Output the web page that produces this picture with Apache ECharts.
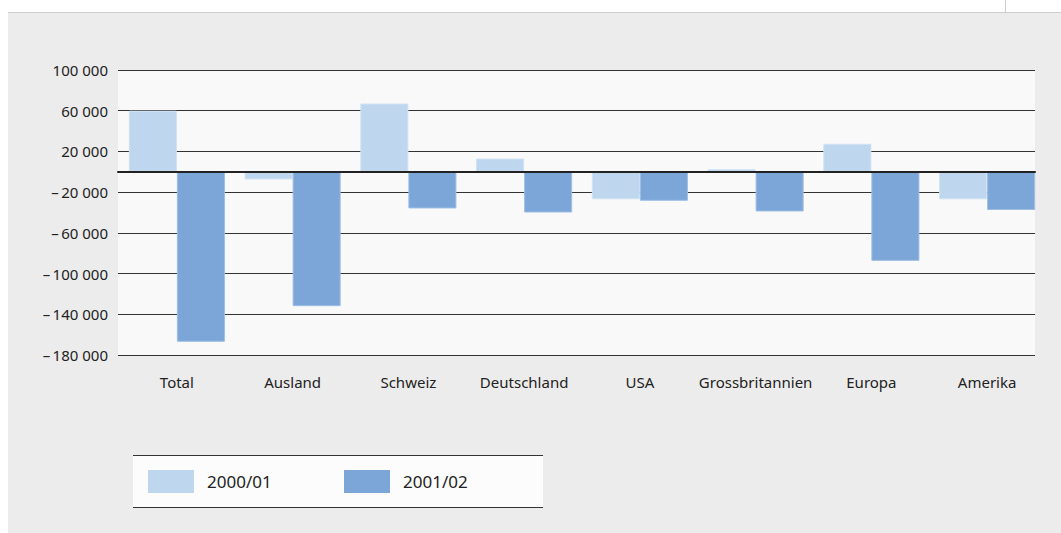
<!DOCTYPE html>
<html>
<head>
<meta charset="utf-8">
<script src="https://cdn.jsdelivr.net/npm/echarts@6/dist/echarts.min.js"></script>
<style>
html, body { margin: 0; padding: 0; background: #fff; }
#chart { width: 1061px; height: 533px; }
</style>
</head>
<body>
<div id="chart"></div>
<script>
// Kategorien und Werte
var categories = ['Total', 'Ausland', 'Schweiz', 'Deutschland', 'USA', 'Grossbritannien', 'Europa', 'Amerika'];
var values0001 = [60000, -7500, 67000, 13000, -27000, 2500, 27500, -27000];
var values0102 = [-167000, -132000, -36000, -40000, -28500, -39000, -87500, -37500];
var seriesNames = ['2000/01', '2001/02'];
var colors = ['#bfd7ee', '#7ba6d7'];
var yMin = -180000, yMax = 100000, yStep = 40000;

var fontFamily = '"Noto Sans", "Open Sans", sans-serif';

// Zahlenformat: 100 000, – 20 000
function fmt(v) {
	var s = String(Math.abs(v)).replace(/\B(?=(\d{3})+(?!\d))/g, ' ');
	return v < 0 ? '\u2013\u2009' + s : s;
}

var myChart = echarts.init(document.getElementById('chart'), null, { renderer: 'svg' });

var legendBase = {
	top: 465,
	itemWidth: 46,
	itemHeight: 23,
	icon: 'rect',
	itemStyle: { borderWidth: 0 },
	textStyle: { fontSize: 17, color: '#222', padding: [0, 0, 0, 8] }
};

var option = {
	animation: false,
	color: colors,
	textStyle: { fontFamily: fontFamily },
	graphic: [
		// grauer Hintergrund
		{ type: 'rect', z: -10, shape: { x: 8, y: 12, width: 1053, height: 521 }, style: { fill: '#ececec' } },
		{ type: 'line', z: -9, shape: { x1: 8, y1: 12.5, x2: 1061, y2: 12.5 }, style: { stroke: '#cccccc', lineWidth: 1 } },
		{ type: 'line', z: -9, shape: { x1: 1005.5, y1: 0, x2: 1005.5, y2: 12 }, style: { stroke: '#cccccc', lineWidth: 1 } },
		// Zeichenfläche
		{ type: 'rect', z: -9, shape: { x: 118, y: 70, width: 917, height: 285 }, style: { fill: '#f9f9f9' } },
		// Legendenkasten
		{ type: 'rect', z: -8, shape: { x: 133, y: 455, width: 410, height: 52 }, style: { fill: '#fcfcfc' } },
		{ type: 'line', z: -7, shape: { x1: 133, y1: 455.5, x2: 543, y2: 455.5 }, style: { stroke: '#333', lineWidth: 1 } },
		{ type: 'line', z: -7, shape: { x1: 133, y1: 507.5, x2: 543, y2: 507.5 }, style: { stroke: '#333', lineWidth: 1 } }
	],
	legend: [
		Object.assign({}, legendBase, { left: 143, data: [seriesNames[0]] }),
		Object.assign({}, legendBase, { left: 339, data: [seriesNames[1]] })
	],
	grid: [{
		// Gitterlinien
		left: 118,
		top: 70,
		width: 917,
		height: 285
	}, {
		// Balken
		left: 119,
		top: 70,
		width: 926,
		height: 285
	}],
	xAxis: [{
		gridIndex: 0,
		type: 'category',
		data: categories,
		z: 10,
		axisLine: { show: true, onZero: true, lineStyle: { color: '#222', width: 2 } },
		axisTick: { show: false },
		axisLabel: { show: false },
		splitLine: { show: false },
		splitArea: { show: false }
	}, {
		gridIndex: 1,
		type: 'category',
		data: categories,
		position: 'bottom',
		axisLine: { show: false, onZero: false },
		axisTick: { show: false },
		splitLine: { show: false },
		splitArea: { show: false },
		axisLabel: { color: '#222', fontSize: 15, margin: 19, interval: 0 }
	}],
	yAxis: [{
		gridIndex: 0,
		type: 'value',
		min: yMin,
		max: yMax,
		interval: yStep,
		axisLine: { show: false },
		axisTick: { show: false },
		axisLabel: { color: '#222', fontSize: 15, margin: 10, formatter: fmt },
		splitLine: { lineStyle: { color: '#333', width: 1 } }
	}, {
		gridIndex: 1,
		type: 'value',
		min: yMin,
		max: yMax,
		interval: yStep,
		show: false,
		splitLine: { show: false }
	}],
	series: [{
		name: seriesNames[0],
		type: 'bar',
		xAxisIndex: 1,
		yAxisIndex: 1,
		data: values0001,
		barGap: '0%',
		barCategoryGap: '17%',
		itemStyle: { color: colors[0], borderColor: '#cfe1f3', borderWidth: 1 }
	}, {
		name: seriesNames[1],
		type: 'bar',
		xAxisIndex: 1,
		yAxisIndex: 1,
		data: values0102,
		barGap: '0%',
		barCategoryGap: '17%',
		itemStyle: { color: colors[1], borderColor: '#9dbde3', borderWidth: 1 }
	}]
};

myChart.setOption(option);
</script>
</body>
</html>
